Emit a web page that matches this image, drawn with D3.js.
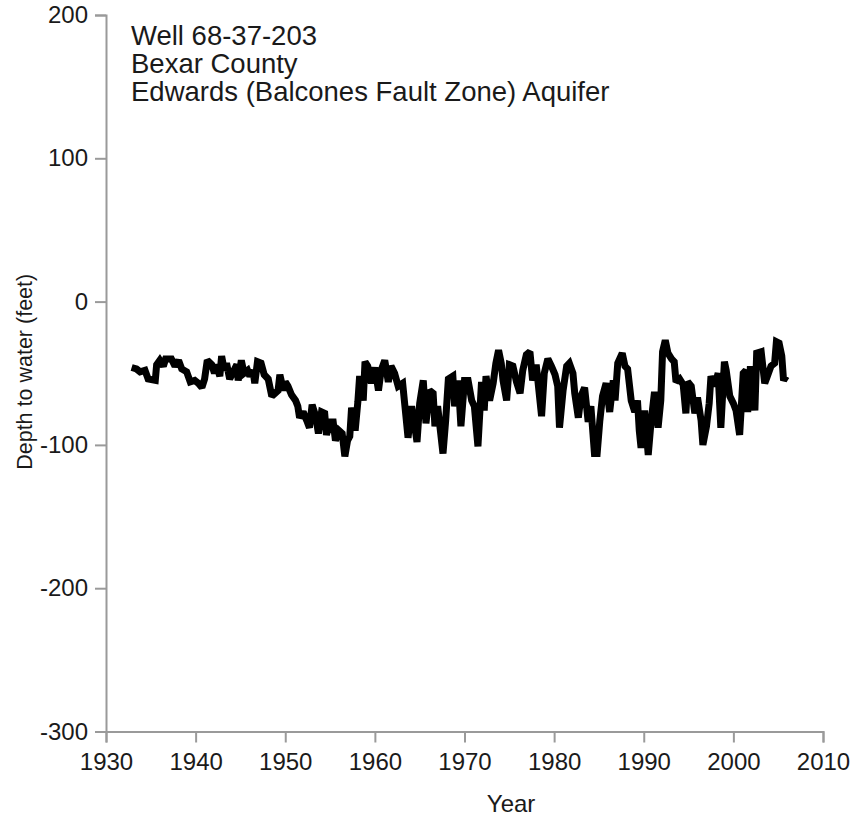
<!DOCTYPE html>
<html>
<head>
<meta charset="utf-8">
<script src="https://cdn.jsdelivr.net/npm/d3@7"></script>
<style>
  body { margin: 0; background: #fff; }
  text { font-family: "Liberation Sans", Arial, sans-serif; fill: #1a1a1a; }
</style>
</head>
<body>
<svg id="chart" width="855" height="821"></svg>
<script>
// Уровень воды
var years = [1932.86, 1933.4, 1933.8, 1934.35, 1934.7, 1935.5, 1935.65, 1936.0, 1936.4, 1936.65,
    1937.3, 1937.7, 1938.1, 1938.45, 1939.0, 1939.4, 1939.9, 1940.3, 1940.7, 1941.0,
    1941.3, 1941.8, 1942.1, 1942.3, 1942.7, 1942.9, 1943.2, 1943.45, 1943.8, 1944.2,
    1944.6, 1944.75, 1945.1, 1945.4, 1945.8, 1946.05, 1946.4, 1946.6, 1946.9, 1947.3,
    1947.65, 1948.1, 1948.5, 1948.85, 1949.2, 1949.4, 1949.8, 1950.0, 1950.3, 1950.7,
    1951.15, 1951.4, 1951.6, 1952.0, 1952.4, 1952.7, 1953.0, 1953.4, 1953.7, 1954.05,
    1954.4, 1954.6, 1955.0, 1955.35, 1955.6, 1956.0, 1956.35, 1956.65, 1956.95, 1957.2,
    1957.4, 1957.8, 1958.1, 1958.3, 1958.7, 1958.9, 1959.2, 1959.6, 1960.0, 1960.4,
    1960.7, 1961.1, 1961.5, 1961.8, 1962.2, 1962.6, 1963.1, 1963.4, 1963.7, 1964.1,
    1964.4, 1964.7, 1965.0, 1965.4, 1965.7, 1966.1, 1966.5, 1966.7, 1967.0, 1967.6,
    1967.9, 1968.2, 1968.7, 1968.9, 1969.3, 1969.6, 1970.0, 1970.4, 1970.8, 1971.1,
    1971.5, 1971.9, 1972.2, 1972.4, 1972.8, 1973.2, 1973.5, 1973.8, 1974.1, 1974.3,
    1974.7, 1975.0, 1975.4, 1975.8, 1976.2, 1976.5, 1976.9, 1977.3, 1977.6, 1978.0,
    1978.6, 1978.9, 1979.3, 1979.7, 1980.1, 1980.4, 1980.6, 1981.0, 1981.4, 1981.7,
    1982.1, 1982.3, 1982.7, 1983.0, 1983.4, 1983.8, 1984.1, 1984.5, 1984.8, 1985.1,
    1985.4, 1985.8, 1986.2, 1986.6, 1986.8, 1987.1, 1987.6, 1987.9, 1988.2, 1988.6,
    1989.0, 1989.3, 1989.5, 1989.7, 1990.1, 1990.5, 1990.8, 1991.2, 1991.6, 1991.9,
    1992.1, 1992.4, 1992.7, 1993.1, 1993.4, 1993.6, 1994.0, 1994.4, 1994.7, 1994.9,
    1995.3, 1995.7, 1996.0, 1996.4, 1996.6, 1997.0, 1997.3, 1997.5, 1997.9, 1998.3,
    1998.6, 1999.0, 1999.2, 1999.6, 2000.0, 2000.3, 2000.7, 2001.1, 2001.4, 2001.6,
    2001.9, 2002.4, 2002.6, 2003.1, 2003.5, 2003.8, 2004.2, 2004.6, 2004.8, 2005.1,
    2005.4, 2005.6, 2005.9];
var depths = [-46, -47, -49, -48, -54, -55, -44, -41, -45, -40,
    -40, -45, -41, -47, -49, -56, -55, -57, -60, -54,
    -41, -44, -50, -44, -52, -38, -48, -43, -54, -49,
    -44, -55, -41, -50, -48, -52, -48, -57, -42, -43,
    -51, -54, -66, -64, -62, -51, -62, -56, -59, -65,
    -69, -73, -81, -77, -83, -88, -72, -80, -92, -77,
    -78, -93, -84, -84, -97, -90, -92, -108, -97, -94,
    -74, -90, -70, -52, -69, -42, -45, -57, -46, -62,
    -48, -41, -56, -45, -50, -59, -57, -76, -95, -73,
    -85, -98, -71, -55, -85, -62, -64, -87, -73, -106,
    -83, -54, -52, -73, -55, -87, -55, -55, -69, -73,
    -101, -56, -76, -52, -69, -57, -43, -34, -43, -55,
    -69, -44, -45, -56, -64, -48, -37, -35, -55, -44,
    -80, -50, -40, -45, -51, -59, -88, -62, -45, -43,
    -50, -64, -81, -66, -60, -84, -73, -106, -106, -83,
    -66, -57, -77, -55, -69, -43, -36, -45, -47, -69,
    -77, -69, -90, -102, -76, -107, -85, -63, -88, -69,
    -35, -27, -36, -40, -42, -56, -54, -58, -78, -56,
    -59, -78, -67, -83, -100, -87, -71, -52, -59, -50,
    -88, -42, -48, -66, -71, -76, -93, -50, -48, -77,
    -45, -76, -36, -35, -57, -52, -45, -43, -28, -29,
    -38, -55, -52];

var xTicks = [1930, 1940, 1950, 1960, 1970, 1980, 1990, 2000, 2010];
var yTicks = [-300, -200, -100, 0, 100, 200];
var titleLines = ["Well 68-37-203", "Bexar County", "Edwards (Balcones Fault Zone) Aquifer"];

var svg = d3.select("#chart");
var axisColor = "#9a9a9a";

var x = d3.scaleLinear().domain([1930, 2010]).range([106, 823]);
var y = d3.scaleLinear().domain([-300, 200]).range([731.5, 15]);

// ось Y
var gy = svg.append("g")
    .attr("transform", "translate(106,0)")
    .call(d3.axisLeft(y).tickValues(yTicks).tickSize(11).tickPadding(7).tickFormat(d => String(d)));
// ось X
var gx = svg.append("g")
    .attr("transform", "translate(0,731.5)")
    .call(d3.axisBottom(x).tickValues(xTicks).tickSize(11).tickPadding(10).tickFormat(d => String(d)));

[gx, gy].forEach(function(g){
    g.select(".domain").attr("stroke", axisColor).attr("stroke-width", 2);
    g.selectAll(".tick line").attr("stroke", axisColor).attr("stroke-width", 2);
    g.selectAll(".tick text").attr("font-size", 24).attr("fill", "#1a1a1a")
        .style("font-family", "'Liberation Sans', Arial, sans-serif");
});

var points = years.map(function(t, i){ return { t: t, v: depths[i] }; });
var line = d3.line().x(d => x(d.t)).y(d => y(d.v));

svg.append("path")
    .datum(points)
    .attr("d", line)
    .attr("fill", "none")
    .attr("stroke", "#000")
    .attr("stroke-width", 7)
    .attr("stroke-linejoin", "miter")
    .attr("stroke-miterlimit", 2);

svg.append("g").selectAll("text")
    .data(titleLines)
    .enter()
    .append("text")
    .attr("x", 131)
    .attr("y", (d, i) => 45 + i * 28)
    .attr("font-size", 27.5)
    .text(d => d);

svg.append("text")
    .attr("x", x(1975.2))
    .attr("y", 812)
    .attr("text-anchor", "middle")
    .attr("font-size", 24)
    .text("Year");

svg.append("text")
    .attr("transform", "translate(32," + y(-49) + ") rotate(-90)")
    .attr("text-anchor", "middle")
    .attr("font-size", 21.5)
    .text("Depth to water (feet)");
</script>
</body>
</html>
